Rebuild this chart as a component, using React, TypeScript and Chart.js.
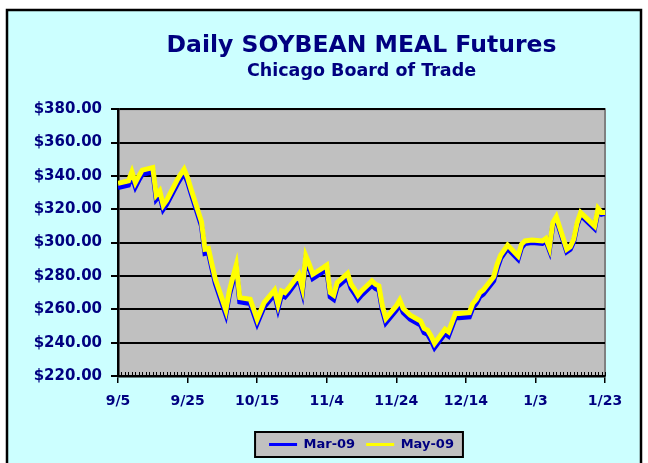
import React, { useEffect, useRef } from 'react';
import { Chart, registerables } from 'chart.js';

Chart.register(...registerables);

// ---- DATA ----
const tradeDates = [
  '2008-09-05', '2008-09-08', '2008-09-09', '2008-09-10', '2008-09-11', '2008-09-12',
  '2008-09-15', '2008-09-16', '2008-09-17', '2008-09-18', '2008-09-19',
  '2008-09-22', '2008-09-23', '2008-09-24', '2008-09-25', '2008-09-26',
  '2008-09-29', '2008-09-30', '2008-10-01', '2008-10-02', '2008-10-03',
  '2008-10-06', '2008-10-07', '2008-10-08', '2008-10-09', '2008-10-10',
  '2008-10-13', '2008-10-14', '2008-10-15', '2008-10-16', '2008-10-17',
  '2008-10-20', '2008-10-21', '2008-10-22', '2008-10-23', '2008-10-24',
  '2008-10-27', '2008-10-28', '2008-10-29', '2008-10-30', '2008-10-31',
  '2008-11-03', '2008-11-04', '2008-11-05', '2008-11-06', '2008-11-07',
  '2008-11-10', '2008-11-11', '2008-11-12', '2008-11-13', '2008-11-14',
  '2008-11-17', '2008-11-18', '2008-11-19', '2008-11-20', '2008-11-21',
  '2008-11-24', '2008-11-25', '2008-11-26', '2008-11-28',
  '2008-12-01', '2008-12-02', '2008-12-03', '2008-12-04', '2008-12-05',
  '2008-12-08', '2008-12-09', '2008-12-10', '2008-12-11', '2008-12-12',
  '2008-12-15', '2008-12-16', '2008-12-17', '2008-12-18', '2008-12-19',
  '2008-12-22', '2008-12-23', '2008-12-24', '2008-12-26',
  '2008-12-29', '2008-12-30', '2008-12-31', '2009-01-02',
  '2009-01-05', '2009-01-06', '2009-01-07', '2009-01-08', '2009-01-09',
  '2009-01-12', '2009-01-13', '2009-01-14', '2009-01-15', '2009-01-16',
  '2009-01-20', '2009-01-21', '2009-01-22', '2009-01-23',
];

const mar09 = [
  333, 334.5, 340, 333.5, 337.5, 341,
  342.5, 326, 328.5, 320, 323,
  335, 338.5, 341.5, 336.5, 329.5,
  310, 293.5, 294, 284.5, 275.5,
  257, 268.5, 276.5, 284, 264.5,
  263.5, 257.5, 251.5, 256.5, 261.5,
  269, 260.5, 268.5, 267.5, 270,
  278.5, 270.5, 289.5, 284.5, 278.5,
  282.5, 284, 267.5, 266, 273.5,
  279, 272.5, 269.5, 266, 268.5,
  274.5, 272.5, 271.5, 259.5, 252,
  259.5, 263, 258, 254,
  250.5, 246, 245, 241.5, 237,
  245.5, 244, 249.5, 255, 255,
  255.5, 261, 263.5, 267.5, 269,
  277, 284.5, 290.5, 296.5,
  290, 297, 299.5, 300,
  299.5, 301, 295.5, 310.5, 314,
  294.5, 296, 300.5, 310.5, 316.5,
  308.5, 319, 317, 317.5,
];

const may09 = [
  335.5, 337, 342.5, 336, 340, 343.5,
  345, 328.5, 331, 322.5, 325.5,
  337.5, 341, 344, 339, 332,
  312.5, 296, 296.5, 287, 278,
  259.5, 271, 279, 286.5, 267,
  266, 260, 254, 259, 264,
  271.5, 263, 271, 270, 272.5,
  281, 273, 292, 287, 281,
  285, 286.5, 270, 268.5, 276,
  281.5, 275, 272, 268.5, 271,
  277, 275, 274, 262, 254.5,
  262, 265.5, 260.5, 256.5,
  253, 248.5, 247.5, 244, 239.5,
  248, 246.5, 252, 257.5, 257.5,
  258, 263.5, 266, 270, 271.5,
  279.5, 287, 292.5, 298.5,
  292, 299, 301, 301.5,
  301, 302.5, 297, 312, 315.5,
  296, 297.5, 302, 312, 318,
  310, 320.5, 318, 318,
];

const xTickLabels = ['9/5', '9/25', '10/15', '11/4', '11/24', '12/14', '1/3', '1/23'];
const seriesNames = ['Mar-09', 'May-09'];
const titleText = 'Daily SOYBEAN MEAL Futures';
const subtitleText = 'Chicago Board of Trade';

// ---- helpers ----
const START = Date.UTC(2008, 8, 5);
function dayOffset(s: string): number {
  const [y, m, d] = s.split('-').map(Number);
  return Math.round((Date.UTC(y, m - 1, d) - START) / 86400000);
}
const xs = tradeDates.map(dayOffset);
const toPoints = (vals: number[]) => vals.map((v, i) => ({ x: xs[i], y: v }));

const NAVY = '#000080';
const FONT = '"DejaVu Sans", sans-serif';

const backgroundPlugin = {
  id: 'bgPlugin',
  beforeDraw(chart: any) {
    const { ctx, chartArea: ca, width, height } = chart;
    ctx.save();
    ctx.fillStyle = '#ffffff';
    ctx.fillRect(0, 0, width, height);
    ctx.fillStyle = '#CCFFFF';
    ctx.fillRect(7, 10, width - 14, height);
    ctx.strokeStyle = '#000000';
    ctx.lineWidth = 2.5;
    ctx.strokeRect(7, 10, width - 14, height);
    // plot area
    ctx.fillStyle = '#C0C0C0';
    ctx.fillRect(ca.left, ca.top, ca.right - ca.left, ca.bottom - ca.top);
    ctx.strokeStyle = '#808080';
    ctx.lineWidth = 2;
    ctx.strokeRect(ca.left, ca.top, ca.right - ca.left, ca.bottom - ca.top);
    // legend box
    const lg = chart.legend;
    const hb = lg && lg.legendHitBoxes;
    if (hb && hb.length) {
      const first = hb[0];
      const last = hb[hb.length - 1];
      const cy = first.top + first.height / 2;
      const l = first.left - 14;
      const r = last.left + last.width + 9;
      ctx.fillStyle = '#C0C0C0';
      ctx.fillRect(l, cy - 12.5, r - l, 25);
      ctx.strokeStyle = '#000000';
      ctx.lineWidth = 2;
      ctx.strokeRect(l, cy - 12.5, r - l, 25);
    }
    ctx.restore();
  },
  afterDraw(chart: any) {
    const { ctx, chartArea: ca } = chart;
    const xScale = chart.scales.x;
    ctx.save();
    ctx.strokeStyle = '#000000';
    ctx.lineWidth = 1;
    ctx.beginPath();
    for (let d = xScale.min; d <= xScale.max; d++) {
      const px = Math.round(xScale.getPixelForValue(d)) + 0.5;
      ctx.moveTo(px, ca.bottom - 4);
      ctx.lineTo(px, ca.bottom);
    }
    ctx.stroke();
    ctx.restore();
  },
};

export default function App() {
  const canvasRef = useRef<HTMLCanvasElement | null>(null);

  useEffect(() => {
    if (!canvasRef.current) return;
    const chart = new Chart(canvasRef.current, {
      type: 'line',
      data: {
        datasets: [
          {
            label: seriesNames[1],
            data: toPoints(may09),
            borderColor: '#FFFF00',
            backgroundColor: '#FFFF00',
            borderWidth: 5,
            pointRadius: 0,
            tension: 0,
          },
          {
            label: seriesNames[0],
            data: toPoints(mar09),
            borderColor: '#0000FF',
            backgroundColor: '#0000FF',
            borderWidth: 5,
            pointRadius: 0,
            tension: 0,
          },
        ],
      },
      options: {
        responsive: false,
        animation: false,
        devicePixelRatio: 1,
        layout: { padding: { left: 8, right: 43, top: 0, bottom: 2 } },
        plugins: {
          title: {
            display: true,
            text: titleText,
            fullSize: false,
            color: NAVY,
            font: { family: FONT, size: 23.5, weight: 'bold', lineHeight: 1.2 },
            padding: { top: 32, bottom: 0 },
          },
          subtitle: {
            display: true,
            text: subtitleText,
            fullSize: false,
            color: NAVY,
            font: { family: FONT, size: 17.5, weight: 'bold', lineHeight: 1.2 },
            padding: { top: 1, bottom: 27 },
          },
          legend: {
            display: true,
            position: 'bottom',
            fullSize: false,
            reverse: true,
            labels: {
              boxWidth: 28,
              boxHeight: 3,
              padding: 11,
              color: NAVY,
              font: { family: FONT, size: 13, weight: 'bold' },
              generateLabels: (c: any) => {
                const items = (Chart.defaults.plugins.legend.labels as any).generateLabels(c);
                return items.map((it: any) => ({ ...it, fillStyle: it.strokeStyle, lineWidth: 0 }));
              },
            },
          },
          tooltip: { enabled: false },
        },
        scales: {
          x: {
            type: 'linear',
            min: 0,
            max: 140,
            afterFit: (s: any) => { s.height = 51; },
            ticks: {
              stepSize: 20,
              autoSkip: false,
              maxRotation: 0,
              padding: 10,
              color: NAVY,
              font: { family: FONT, size: 14, weight: 'bold' },
              callback: (_v: any, i: number) => xTickLabels[i] ?? '',
            },
            grid: { drawOnChartArea: false, drawTicks: true, tickLength: 7, color: '#000000', lineWidth: 1.5 },
            border: { display: true, color: '#000000', width: 2.5 },
          },
          y: {
            min: 220,
            max: 380,
            afterFit: (s: any) => { s.width = 110; },
            ticks: {
              stepSize: 20,
              padding: 9,
              color: NAVY,
              font: { family: FONT, size: 15, weight: 'bold' },
              callback: (v: any) => '$' + Number(v).toFixed(2),
            },
            grid: { color: '#000000', lineWidth: 2, tickLength: 7, drawTicks: true },
            border: { display: true, color: '#000000', width: 2.5 },
          },
        },
      },
      plugins: [backgroundPlugin],
    } as any);
    return () => chart.destroy();
  }, []);

  return (
    <div style={{ position: 'absolute', left: 0, top: 0, width: 648, height: 463 }}>
      <canvas ref={canvasRef} width={648} height={463} style={{ display: 'block' }} />
    </div>
  );
}
